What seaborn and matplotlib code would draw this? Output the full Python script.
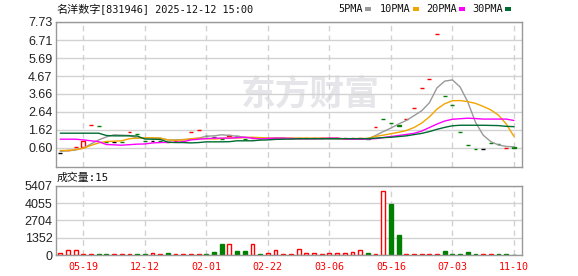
import numpy as np
import pandas as pd
import matplotlib
matplotlib.use("Agg")
import matplotlib.pyplot as plt
import seaborn as sns
from matplotlib.patches import Rectangle

# ---------------- data ----------------
title_cn = "名洋数字"
title_rest = "[831946] 2025-12-12 15:00"
vol_label = "成交量:15"
watermark = "东方财富"

tick_idx = [3, 11, 19, 27, 35, 43, 51, 59]
tick_dates = ["05-19", "12-12", "02-01", "02-22", "03-06", "05-16", "07-03", "11-10"]
price_ticks = [0.60, 1.62, 2.64, 3.66, 4.67, 5.69, 6.71, 7.73]
vol_ticks = [0, 1352, 2704, 4055, 5407]

close = [0.28, 0.49, 0.64, 0.96, 1.88, 1.83, 0.93, 0.93, 0.93, 1.51,
         1.39, 0.99, 1.00, 1.00, 0.95, 0.97, 1.00, 1.51, 1.61, 1.26,
         1.20, 1.10, 1.30, 1.26, 1.09, 1.15, 1.13, 1.15, 1.15, 1.15,
         1.15, 1.16, 1.16, 1.16, 1.16, 1.16, 1.16, 1.16, 1.17, 1.17,
         1.12, 1.77, 2.23, 2.00, 1.86, 2.23, 2.85, 3.98, 4.49, 7.05,
         3.55, 3.04, 1.51, 0.75, 0.53, 0.53, 0.87, 0.81, 0.61, 0.60]
open_ = [0.28, 0.48, 0.63, 0.67, 1.87, 1.84, 0.94, 0.93, 0.94, 1.50,
         1.40, 1.00, 1.00, 1.01, 0.94, 0.96, 0.99, 1.50, 1.60, 1.27,
         1.21, 1.11, 1.29, 1.27, 1.10, 1.14, 1.14, 1.14, 1.14, 1.14,
         1.14, 1.15, 1.15, 1.15, 1.15, 1.15, 1.15, 1.15, 1.16, 1.16,
         1.13, 1.76, 2.24, 2.01, 1.87, 2.22, 2.84, 3.97, 4.48, 7.04,
         3.56, 3.05, 1.52, 0.76, 0.54, 0.53, 0.88, 0.82, 0.58, 0.64]
volume = [180, 390, 390, 70, 60, 60, 60, 50, 50, 50,
          60, 60, 180, 60, 180, 50, 50, 50, 50, 60,
          200, 860, 860, 310, 310, 860, 70, 180, 390, 50,
          50, 490, 130, 130, 60, 130, 130, 130, 210, 370,
          150, 60, 4990, 4000, 1570, 60, 60, 60, 60, 60,
          310, 70, 70, 230, 70, 50, 50, 50, 50, 15]

ma5 = [0.40, 0.43, 0.48, 0.58, 0.82, 1.05, 1.22, 1.34, 1.32, 1.30,
       1.16, 1.15, 1.15, 1.15, 1.05, 1.05, 1.07, 1.09, 1.15, 1.26,
       1.28, 1.34, 1.30, 1.26, 1.20, 1.17, 1.15, 1.15, 1.15, 1.15,
       1.10, 1.10, 1.10, 1.10, 1.10, 1.10, 1.10, 1.10, 1.10, 1.10,
       1.10, 1.30, 1.52, 1.72, 1.95, 2.15, 2.42, 2.70, 3.15, 4.00,
       4.38, 4.45, 4.05, 3.20, 2.05, 1.32, 0.95, 0.76, 0.68, 0.66]
ma10 = [0.45, 0.45, 0.50, 0.58, 0.74, 0.88, 0.96, 0.98, 1.00, 1.12,
        1.15, 1.17, 1.17, 1.15, 1.05, 1.03, 1.05, 1.12, 1.15, 1.12,
        1.10, 1.13, 1.16, 1.16, 1.18, 1.20, 1.18, 1.15, 1.15, 1.15,
        1.15, 1.15, 1.15, 1.15, 1.15, 1.15, 1.15, 1.10, 1.12, 1.13,
        1.13, 1.25, 1.32, 1.40, 1.48, 1.58, 1.75, 2.00, 2.35, 2.80,
        3.10, 3.27, 3.28, 3.22, 3.12, 2.95, 2.75, 2.45, 1.95, 1.25]
ma20 = [1.09, 1.09, 1.09, 1.05, 1.00, 0.95, 0.79, 0.77, 0.75, 0.78,
        0.81, 0.82, 0.88, 0.90, 0.91, 0.92, 0.95, 1.05, 1.09, 1.12,
        1.15, 1.15, 1.15, 1.18, 1.20, 1.15, 1.10, 1.13, 1.15, 1.15,
        1.13, 1.12, 1.12, 1.12, 1.13, 1.15, 1.15, 1.10, 1.09, 1.09,
        1.10, 1.12, 1.18, 1.24, 1.30, 1.36, 1.42, 1.55, 1.75, 1.95,
        2.12, 2.22, 2.25, 2.28, 2.26, 2.23, 2.23, 2.23, 2.23, 2.15]
ma30 = [1.43, 1.43, 1.43, 1.43, 1.43, 1.43, 1.30, 1.28, 1.28, 1.28,
        1.27, 1.10, 1.09, 1.08, 0.92, 0.90, 0.90, 0.88, 0.90, 0.94,
        0.94, 0.94, 0.95, 1.00, 1.00, 1.00, 1.04, 1.05, 1.08, 1.09,
        1.10, 1.12, 1.12, 1.12, 1.12, 1.12, 1.12, 1.12, 1.12, 1.12,
        1.12, 1.15, 1.18, 1.20, 1.24, 1.28, 1.35, 1.42, 1.52, 1.65,
        1.76, 1.85, 1.88, 1.88, 1.88, 1.88, 1.87, 1.86, 1.82, 1.80]

ma_names = ["5PMA", "10PMA", "20PMA", "30PMA"]

# ---------------- style ----------------
sns.set_style("white")
plt.rcParams["font.family"] = ["Liberation Sans", "DejaVu Sans"]

W, H = 578, 276
RED = "#ff0000"
GRN = "#008000"
ma_colors = ["#999999", "#f2a500", "#ff00ff", "#006b33"]
GRID = "#d2d2d2"
SPINE = "#999999"
MONO = ["DejaVu Sans Mono", "Noto Sans CJK SC"]
CJK = ["Noto Sans CJK SC", "DejaVu Sans"]

fig = plt.figure(figsize=(W / 100, H / 100), dpi=100)
L, R = 56, 522
ax = fig.add_axes([L / W, 1 - 167 / H, (R - L) / W, 145 / H])
axv = fig.add_axes([L / W, 1 - 255 / H, (R - L) / W, 69 / H])

n = len(close)
idx = np.arange(n)
df = pd.DataFrame({"i": idx, "open": open_, "close": close, "volume": volume,
                   "5PMA": ma5, "10PMA": ma10, "20PMA": ma20, "30PMA": ma30})

# ---------------- price panel ----------------
ax.set_xlim(-0.55, 60.05)
ax.set_ylim(-0.485, 7.73)

ax.text(0.545, 0.50, watermark, transform=ax.transAxes, ha="center", va="center",
        fontsize=25, fontweight="bold", color="#e6e6ea", family=CJK, zorder=0)

for name, col in zip(ma_names, ma_colors):
    sns.lineplot(data=df, x="i", y=name, ax=ax, color=col, linewidth=1.0,
                 legend=False, zorder=3)

cw = 0.5
for i in range(n):
    o, c = open_[i], close[i]
    if c > o:
        ax.bar(i, c - o, bottom=o, width=cw, facecolor="white", edgecolor=RED,
               linewidth=1.0, zorder=2)
    elif c < o:
        ax.bar(i, o - c, bottom=c, width=cw, facecolor=GRN, edgecolor=GRN,
               linewidth=1.0, zorder=2)
    else:
        ax.bar(i, 0, bottom=o, width=cw, facecolor="black", edgecolor="black",
               linewidth=1.0, zorder=2)

ax.set_yticks(price_ticks)
ax.set_yticklabels([f"{v:.2f}" for v in price_ticks])
ax.set_xticks(tick_idx)
ax.set_xticklabels([])
ax.set_xlabel("")
ax.set_ylabel("")
ax.grid(False)
ax.yaxis.grid(True, color=GRID, linewidth=1, linestyle="-", zorder=0)
ax.xaxis.grid(True, color=GRID, linewidth=1, linestyle=(0, (4, 3)), zorder=0)
ax.set_axisbelow(True)
ax.tick_params(axis="both", length=0, pad=2.5, labelsize=9, labelcolor="#222222")

# ---------------- volume panel ----------------
axv.set_xlim(-0.55, 60.05)
axv.set_ylim(0, 5407)
for i in range(n):
    up = i == 0 or close[i] >= close[i - 1]
    if up:
        axv.bar(i, volume[i], width=cw, facecolor="white", edgecolor=RED,
                linewidth=1.0, zorder=2)
    else:
        axv.bar(i, volume[i], width=cw, facecolor=GRN, edgecolor=GRN,
                linewidth=1.0, zorder=2)
axv.set_yticks(vol_ticks)
axv.set_yticklabels([str(v) for v in vol_ticks])
axv.set_xticks(tick_idx)
axv.set_xticklabels(tick_dates, color=RED, family=MONO, fontsize=7.2)
axv.grid(False)
axv.yaxis.grid(True, color=GRID, linewidth=1, linestyle="-", zorder=0)
axv.xaxis.grid(True, color=GRID, linewidth=1, linestyle=(0, (4, 3)), zorder=0)
axv.set_axisbelow(True)
axv.tick_params(axis="y", length=0, pad=2.5, labelsize=9, labelcolor="#222222")
axv.tick_params(axis="x", length=0, pad=5)

for a in (ax, axv):
    for s in a.spines.values():
        s.set_visible(True)
        s.set_color(SPINE)
        s.set_linewidth(1.0)

# ---------------- header texts ----------------
def fx(x):
    return x / W

def fy(y):
    return 1 - y / H

fig.text(fx(56), fy(9.5), title_cn, family=CJK, fontsize=8, va="center", ha="left",
         color="#111111")
fig.text(fx(100), fy(9.5), title_rest, family=MONO, fontsize=7.4, va="center",
         ha="left", color="#111111")

leg_x = [338, 380, 426, 472]
sq_x = [365, 413, 459, 505]
for name, col, lx, sx in zip(ma_names, ma_colors, leg_x, sq_x):
    fig.text(fx(lx), fy(9.5), name, family=MONO, fontsize=7.4, va="center",
             ha="left", color="#111111")
    fig.add_artist(Rectangle((fx(sx), fy(10.5)), 6 / W, 3.5 / H,
                             transform=fig.transFigure, facecolor=col,
                             edgecolor="none"))

fig.text(fx(57), fy(177.5), vol_label, family=MONO, fontsize=7.8, va="center",
         ha="left", color="#111111")

fig.savefig("out.png", dpi=100)
